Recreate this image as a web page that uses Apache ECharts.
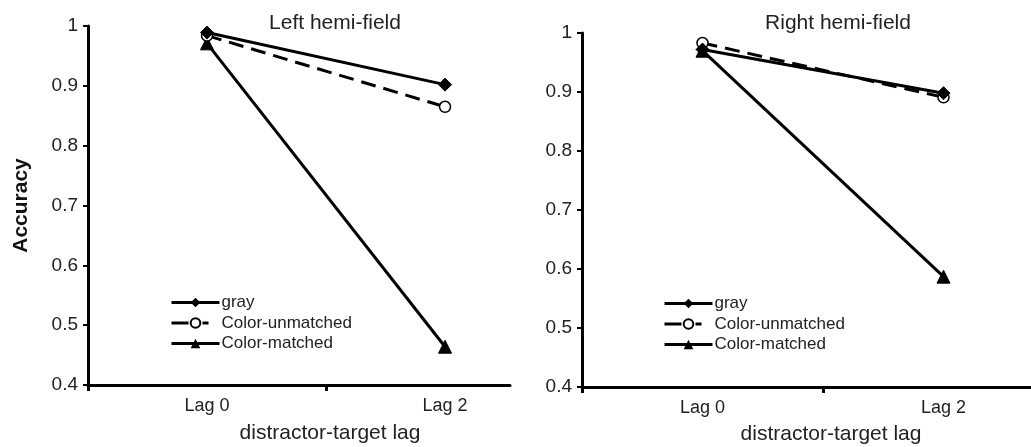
<!DOCTYPE html>
<html>
<head>
<meta charset="utf-8">
<script src="https://cdn.jsdelivr.net/npm/echarts@6/dist/echarts.min.js"></script>
<style>
html,body{margin:0;padding:0;background:#fff;}
#c{width:1031px;height:447px;}
</style>
</head>
<body>
<div id="c"></div>
<script>
const categories = ['Lag 0', 'Lag 2'];
const seriesNames = ['gray', 'Color-unmatched', 'Color-matched'];
const leftGray = [0.989, 0.902];
const leftUnmatched = [0.984, 0.865];
const leftMatched = [0.971, 0.464];
const rightGray = [0.972, 0.898];
const rightUnmatched = [0.983, 0.891];
const rightMatched = [0.970, 0.587];
const panelTitles = ['Left hemi-field', 'Right hemi-field'];
const yAxisName = 'Accuracy';
const xAxisName = 'distractor-target lag';

const FONT = 'Liberation Sans, Arial, sans-serif';
const chart = echarts.init(document.getElementById('c'), null, {renderer: 'canvas'});

function yAxis(idx, name) {
  return {
    type: 'value', gridIndex: idx, min: 0.4, max: 1, interval: 0.1,
    name: name, nameLocation: 'middle', nameGap: 56, nameRotate: 90,
    nameTextStyle: {fontFamily: FONT, fontSize: 21, fontWeight: 'bold', color: '#111'},
    axisLine: {show: true, onZero: false, lineStyle: {color: '#000', width: 3}},
    axisTick: {show: true, length: 5, lineStyle: {color: '#000', width: 2}},
    axisLabel: {fontFamily: FONT, fontSize: 19, color: '#222', margin: 10,
      formatter: v => (Math.abs(v - 1) < 1e-9 ? '1' : v.toFixed(1))},
    splitLine: {show: false}
  };
}
// category positions 0,1 on a value axis; boundaries of the bands at -0.5 and 0.5
function xAxis(idx, maxV) {
  return {
    type: 'value', gridIndex: idx, min: -0.5, max: maxV,
    axisLine: {show: true, onZero: false, lineStyle: {color: '#000', width: 3}},
    axisTick: {show: true, length: 6, customValues: [-0.5, 0.5], lineStyle: {color: '#000', width: 3}},
    axisLabel: {fontFamily: FONT, fontSize: 18, color: '#222', margin: 12,
      customValues: categories.map((c, i) => i),
      formatter: v => categories[Math.round(v)] || ''},
    splitLine: {show: false}
  };
}
function mk(name, data, idx) {
  const base = {
    name: name, type: 'line', data: data.map((v, i) => [i, v]), xAxisIndex: idx, yAxisIndex: idx,
    lineStyle: {color: '#000', width: 3}, itemStyle: {color: '#000', borderColor: '#000'},
    emphasis: {disabled: true}, animation: false
  };
  if (name === 'gray') { base.symbol = 'diamond'; base.symbolSize = 13; base.z = 4; }
  else if (name === 'Color-unmatched') {
    base.symbol = 'circle'; base.symbolSize = 11;
    base.itemStyle = {color: '#fff', borderColor: '#000', borderWidth: 1.5};
    base.lineStyle = {color: '#000', width: 3, type: [15, 8]};
    base.z = 3;
  } else { base.symbol = 'triangle'; base.symbolSize = 13; base.z = 2; }
  return base;
}
function legend(left, top) {
  return {
    orient: 'vertical', left: left, top: top, itemWidth: 48, itemHeight: 12, itemGap: 3.5,
    padding: 0, selectedMode: false,
    data: seriesNames.map(n => n === 'Color-unmatched'
      ? {name: n, lineStyle: {width: 3, type: [17, 14, 6, 20]}}
      : {name: n, lineStyle: {width: 3}}),
    textStyle: {fontFamily: FONT, fontSize: 17, color: '#222', padding: [0, 0, 0, -3]}
  };
}

const series = [
  mk('gray', leftGray, 0), mk('Color-unmatched', leftUnmatched, 0), mk('Color-matched', leftMatched, 0),
  mk('gray', rightGray, 1), mk('Color-unmatched', rightUnmatched, 1), mk('Color-matched', rightMatched, 1)
];

chart.setOption({
  backgroundColor: '#fff',
  animation: false,
  title: [
    {text: panelTitles[0], left: 330, top: 8, textAlign: 'center',
     textStyle: {fontFamily: FONT, fontSize: 21, fontWeight: 'normal', color: '#222'}},
    {text: panelTitles[1], left: 833, top: 8, textAlign: 'center',
     textStyle: {fontFamily: FONT, fontSize: 21, fontWeight: 'normal', color: '#222'}},
    {text: xAxisName, left: 325, top: 418, textAlign: 'center',
     textStyle: {fontFamily: FONT, fontSize: 21, fontWeight: 'normal', color: '#222'}},
    {text: xAxisName, left: 826, top: 419, textAlign: 'center',
     textStyle: {fontFamily: FONT, fontSize: 21, fontWeight: 'normal', color: '#222'}}
  ],
  grid: [
    {left: 88, top: 26, width: 422, height: 359, containLabel: false},
    {left: 582, top: 33, width: 449, height: 354, containLabel: false}
  ],
  xAxis: [xAxis(0, 1.273), xAxis(1, 1.363)],
  yAxis: [yAxis(0, yAxisName), yAxis(1, '')],
  legend: [legend(170, 294), legend(663, 295)],
  series: series
});
</script>
</body>
</html>
